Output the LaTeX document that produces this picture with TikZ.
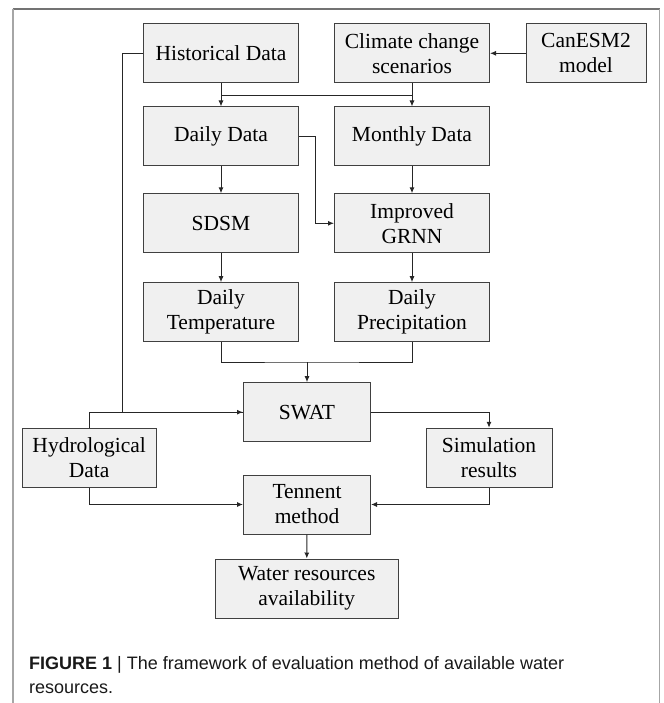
\documentclass[tikz,border=0pt]{standalone}
\usepackage{fontspec}
\setmainfont{Liberation Serif}
\newfontfamily\capfont{Liberation Sans}
\usetikzlibrary{arrows.meta}

\begin{document}
\begin{tikzpicture}[x=1pt,y=-1pt,
  box/.style={draw=black!75,fill=black!6,line width=1pt,align=center,inner sep=0pt,
    minimum height=59pt,font=\fontsize{21.5}{25}\selectfont},
  wire/.style={draw=black!85,line width=1pt},
  captext/.style={anchor=base west,inner sep=0pt,text=black!90,font=\capfont\fontsize{18}{25}\selectfont},
  >={Latex[length=6pt,width=5pt]}]
  \useasboundingbox (0,0) rectangle (663,703);

  % frame
  \draw[black!55,line width=1.5pt] (12.7,9) -- (659.5,9);
  \draw[black!35,line width=2pt] (12.7,9) -- (12.7,703);
  \draw[black!35,line width=1.5pt] (659.5,9) -- (659.5,703);

  % inputs
  \node[box,minimum width=155pt] (hist) at (221,53.3) {Historical Data};
  \node[box,minimum width=155pt] (clim) at (412,53.3) {Climate change\\scenarios};
  \node[box,minimum width=120pt] (canesm) at (586,53.3) {CanESM2\\model};

  \draw[wire,->] (canesm) to (clim);

  \node[box,minimum width=155pt] (daily) at (221,136.5) {Daily Data};
  \node[box,minimum width=155pt] (monthly) at (412,136.5) {Monthly Data};

  \coordinate (jn) at (0,96);
  \draw[wire,->] (hist) to (daily);
  \draw[wire,->] (clim) to (monthly);
  \draw[wire] (hist |- jn) to (clim |- jn);

  % downscaling
  \node[box,minimum width=155pt] (sdsm) at (221,223.3) {SDSM};
  \node[box,minimum width=155pt] (grnn) at (412,223.3) {Improved\\GRNN};

  \draw[wire,->] (daily) to (sdsm);
  \draw[wire,->] (monthly) to (grnn);
  \draw[wire,->] (daily.east) -- ++(16.5,0) |- (grnn.west);

  \node[box,minimum width=155pt] (dtemp) at (221,312.2) {Daily\\Temperature};
  \node[box,minimum width=155pt] (dprec) at (412,312.2) {Daily\\Precipitation};

  \draw[wire,->] (sdsm) to (dtemp);
  \draw[wire,->] (grnn) to (dprec);

  % hydrology
  \node[box,minimum width=127pt] (swat) at (307,412.2) {SWAT};
  \node[box,minimum width=134pt] (hydro) at (89.2,457.8) {Hydrological\\Data};
  \node[box,minimum width=126pt] (simu) at (489,457.8) {Simulation\\results};

  \coordinate (mg) at (307,362);
  \draw[wire] (dtemp.south) |- (mg) -| (dprec.south);
  \draw[wire,->] (mg) to (swat);
  \draw[wire,->] (hist.west) -- ++(-21,0) |- (swat.west);
  \draw[wire] (hydro.north) |- (swat.west);
  \draw[wire,->] (swat.east) -| (simu.north);

  \node[box,minimum width=127pt] (tennent) at (307,504.5) {Tennent\\method};
  \node[box,minimum width=183pt] (water) at (306.7,588.5) {Water resources\\availability};

  \draw[wire,->] (hydro.south) |- (tennent.west);
  \draw[wire,->] (simu.south) |- (tennent.east);
  \draw[wire,->] (tennent) to (water);

  % caption
  \node[captext] (cap1) at (29,669) {\textbf{FIGURE 1} | The framework of evaluation method of available water};
  \node[captext] (cap2) at (29,693) {resources.};

\end{tikzpicture}
\end{document}
